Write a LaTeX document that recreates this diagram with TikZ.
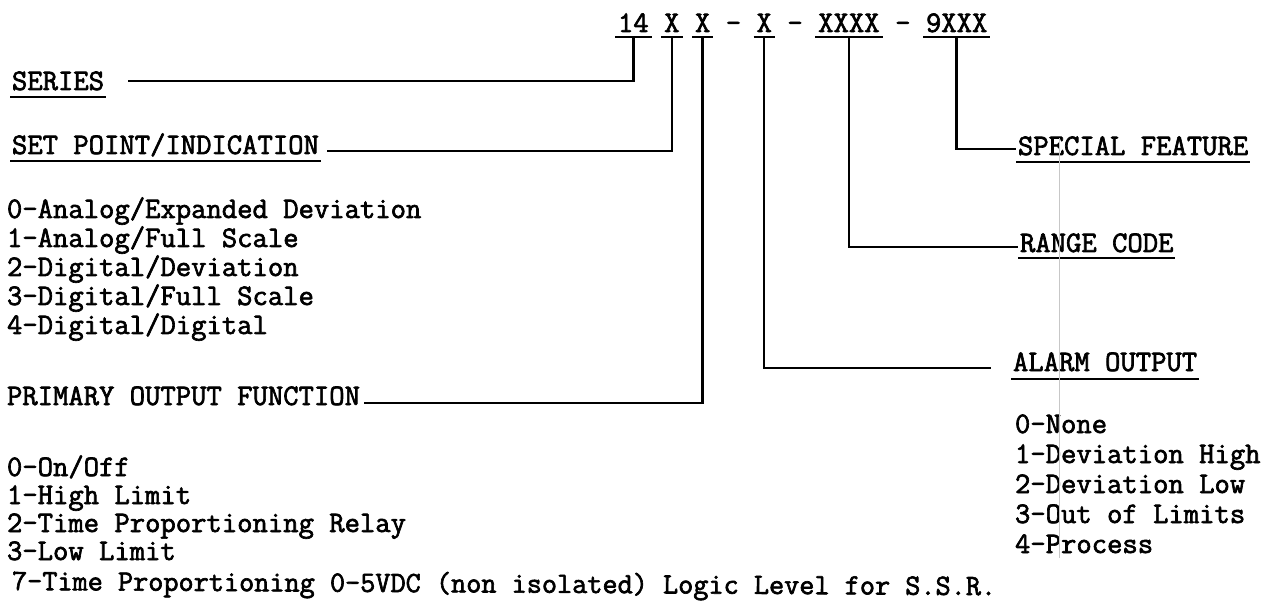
\documentclass[tikz,border=0pt]{standalone}
\usepackage{fontspec}
\setmonofont{Latin Modern Mono}[FakeBold=2.2]
\begin{document}
\begin{tikzpicture}[x=1pt,y=-1pt,
  txt/.style={inner sep=0pt,outer sep=0pt,anchor=base west,font=\ttfamily\fontsize{29.8}{29.8}\selectfont},
  conn/.style={line width=2.4pt,line join=miter},
  ul/.style={line width=2pt},
  scanmark/.style={line width=0.5pt,black!22}]
\useasboundingbox[fill=white] (0,0) rectangle (1284,609);

% code row (monospace, pitch 15.4)
\node[txt] (n14) at (618,32) {14};
\node[txt] (xa) at (664.2,32) {X};
\node[txt] (xb) at (695,32) {X};
\node[txt] (d1) at (725.8,32) {-};
\node[txt] (xc) at (756.6,32) {X};
\node[txt] (d2) at (787.4,32) {-};
\node[txt] (xd) at (818.2,32) {XXXX};
\node[txt] (d3) at (895.2,32) {-};
\node[txt] (xe) at (926,32) {9XXX};
\foreach \n in {n14,xa,xb,xc,xd,xe}{
  \draw[ul] ([xshift=-3pt,yshift=-5pt]\n.base west) -- ([xshift=3pt,yshift=-5pt]\n.base east);
}

% left labels
\node[txt] (series) at (12,90) {SERIES};
\draw[ul] ([xshift=-2pt,yshift=-7pt]series.base west) -- ([xshift=2pt,yshift=-7pt]series.base east);
\node[txt] (setpt) at (12,154) {SET POINT/INDICATION};
\draw[ul] ([xshift=-2pt,yshift=-7pt]setpt.base west) -- ([xshift=2pt,yshift=-7pt]setpt.base east);

\node[txt] (sp0) at (7,218) {0-Analog/Expanded Deviation};
\node[txt] (sp1) at (7,247) {1-Analog/Full Scale};
\node[txt] (sp2) at (7,276) {2-Digital/Deviation};
\node[txt] (sp3) at (7,305) {3-Digital/Full Scale};
\node[txt] (sp4) at (7,334) {4-Digital/Digital};

\node[txt] (prim) at (7,405) {PRIMARY OUTPUT FUNCTION};
\node[txt] (po0) at (7,476) {0-On/Off};
\node[txt] (po1) at (7,504) {1-High Limit};
\node[txt] (po2) at (7,532) {2-Time Proportioning Relay};
\node[txt] (po3) at (7,560) {3-Low Limit};
\node[txt,font=\ttfamily\fontsize{29.4}{29.4}\selectfont,rotate=-0.3] (po7) at (12,590) {7-Time Proportioning 0-5VDC (non isolated) Logic Level for S.S.R.};

% right labels
\node[txt] (spec) at (1018,155) {SPECIAL FEATURE};
\draw[ul] ([xshift=-2pt,yshift=-7pt]spec.base west) -- ([xshift=2pt,yshift=-7pt]spec.base east);
\node[txt] (range) at (1020,252) {RANGE CODE};
\draw[ul] ([xshift=-2pt,yshift=-6pt]range.base west) -- ([xshift=2pt,yshift=-6pt]range.base east);
\node[txt] (alarm) at (1013,371) {ALARM OUTPUT};
\draw[ul] ([xshift=-2pt,yshift=-8pt]alarm.base west) -- ([xshift=2pt,yshift=-8pt]alarm.base east);

\node[txt] (al0) at (1015,433) {0-None};
\node[txt] (al1) at (1015,463) {1-Deviation High};
\node[txt] (al2) at (1015,493) {2-Deviation Low};
\node[txt] (al3) at (1015,523) {3-Out of Limits};
\node[txt] (al4) at (1015,553) {4-Process};

% connectors
\draw[conn] ([yshift=-5pt]n14.base) |- ([xshift=24pt,yshift=9pt]series.base east);
\draw[conn] ([yshift=-5pt]xa.base) |- ([xshift=8pt,yshift=3pt]setpt.base east);
\draw[conn] ([yshift=-5pt]xb.base) |- ([xshift=4pt,yshift=2pt]prim.base east);
\draw[conn] ([yshift=-5pt]xc.base) |- ([xshift=-22pt,yshift=3pt]alarm.base west);
\draw[conn] ([yshift=-5pt]xd.base) |- ([xshift=-2pt,yshift=5pt]range.base west);
\draw[conn] ([yshift=-5pt]xe.base) |- ([xshift=-2pt,yshift=6pt]spec.base west);

% faint scanning line
\draw[scanmark] (1059,138) -- (1059,558);
\end{tikzpicture}
\end{document}
